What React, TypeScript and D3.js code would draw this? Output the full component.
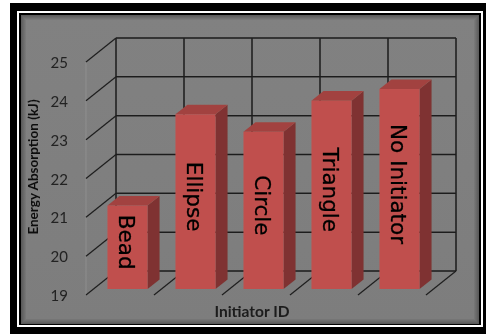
import React from "react";
import * as d3 from "d3";

const categories = ["Bead", "Ellipse", "Circle", "Triangle", "No Initiator"];
const energyValues = [21.15, 23.5, 23.05, 23.85, 24.15];
const yTicks = [19, 20, 21, 22, 23, 24, 25];

const W = 488;
const H = 334;

// plot floor / wall geometry (front plane)
const X0 = 86;
const X1 = 426;
const DEPTH_DX = 30;
const DEPTH_DY = -24;

const x = d3
  .scaleBand<string>()
  .domain(categories)
  .range([X0, X1])
  .paddingInner(0.41)
  .paddingOuter(0.205);

const y = d3.scaleLinear().domain([19, 25]).range([295, 62]);

// project a point back into the depth of the chart (f in 0..1)
const px = (xx: number, f: number) => xx + DEPTH_DX * f;
const py = (yy: number, f: number) => yy + DEPTH_DY * f;

const BAR_F0 = 0.25;
const BAR_F1 = 0.65;

const gridColor = "#1e1e1e";

export default function App() {
  const step = x.step();
  const boundaries = d3.range(categories.length + 1).map((i) => X0 + i * step);

  return (
    <svg
      width={W}
      height={H}
      style={{ position: "absolute", left: 0, top: 0 }}
      fontFamily="Lato, 'Open Sans', sans-serif"
    >
      <defs>
        <linearGradient id="panelGrad" x1="0" y1="0" x2="0" y2="1">
          <stop offset="0" stopColor="#818181" />
          <stop offset="1" stopColor="#7d7d7d" />
        </linearGradient>
        <filter id="soft" x="-5%" y="-5%" width="110%" height="110%">
          <feGaussianBlur stdDeviation="0.35" />
        </filter>
      </defs>
      <rect x={0} y={0} width={W} height={H} fill="#ffffff" />
      {/* frame */}
      <rect x={10} y={3} width={476} height={331} fill="#000" />
      <rect x={18} y={12} width={464} height={314} fill="none" stroke="#fff" strokeWidth={2} />
      <rect x={21} y={15} width={458} height={309} fill="url(#panelGrad)" />
      {/* inner shading along panel edge */}
      {[0, 1, 2, 3, 4].map((k) => (
        <rect
          key={k}
          x={21 + k + 0.5}
          y={15 + k + 0.5}
          width={458 - 2 * k - 1}
          height={309 - 2 * k - 1}
          fill="none"
          stroke="#000"
          strokeOpacity={0.28 - k * 0.055}
          strokeWidth={1}
        />
      ))}

      <g filter="url(#soft)">
        {/* faint front edge of left wall */}
        <line
          x1={X0}
          x2={X0}
          y1={y(25)}
          y2={y(19)}
          stroke="#9a9a9a"
          strokeWidth={1}
          strokeOpacity={0.6}
        />
        {/* left wall diagonals */}
        {yTicks.map((t) => (
          <line
            key={"lw" + t}
            x1={X0}
            y1={y(t)}
            x2={px(X0, 1)}
            y2={py(y(t), 1)}
            stroke={gridColor}
            strokeWidth={1.2}
          />
        ))}
        {/* back wall horizontal gridlines */}
        {yTicks.map((t) => (
          <line
            key={"bw" + t}
            x1={px(X0, 1)}
            x2={px(X1, 1)}
            y1={py(y(t), 1)}
            y2={py(y(t), 1)}
            stroke={gridColor}
            strokeWidth={1.5}
          />
        ))}
        {/* back wall vertical gridlines */}
        {boundaries.map((b, i) => (
          <line
            key={"bv" + i}
            x1={px(b, 1)}
            x2={px(b, 1)}
            y1={py(y(25), 1)}
            y2={py(y(19), 1)}
            stroke={gridColor}
            strokeWidth={1.5}
          />
        ))}
        {/* floor diagonals */}
        {boundaries.slice(1).map((b, i) => (
          <line
            key={"fd" + i}
            x1={b}
            y1={y(19)}
            x2={px(b, 1)}
            y2={py(y(19), 1)}
            stroke={gridColor}
            strokeWidth={1.2}
          />
        ))}

        {/* bars */}
        {categories.map((c, i) => {
          const xl = px(x(c)!, BAR_F0);
          const xr = xl + x.bandwidth();
          const yb = py(y(19), BAR_F0);
          const yt = py(y(energyValues[i]), BAR_F0);
          const ddx = DEPTH_DX * (BAR_F1 - BAR_F0);
          const ddy = DEPTH_DY * (BAR_F1 - BAR_F0);
          const top = [
            [xl, yt],
            [xr, yt],
            [xr + ddx, yt + ddy],
            [xl + ddx, yt + ddy],
          ];
          const side = [
            [xr, yt],
            [xr + ddx, yt + ddy],
            [xr + ddx, yb + ddy],
            [xr, yb],
          ];
          const cx = (xl + xr) / 2;
          const cy = (yt + yb) / 2 - 5;
          return (
            <g key={c}>
              <polygon points={side.map((p) => p.join(",")).join(" ")} fill="#7f3331" />
              <polygon points={top.map((p) => p.join(",")).join(" ")} fill="#a2433f" />
              <rect x={xl} y={yt} width={xr - xl} height={yb - yt} fill="#c0504d" />
              <text
                transform={`translate(${cx - 1},${cy}) rotate(90)`}
                textAnchor="middle"
                dominantBaseline="central"
                fontFamily="'DejaVu Sans', Verdana, sans-serif"
                fontSize={21.5}
                fill="#000"
                stroke="#000"
                strokeWidth={0.3}
              >
                {c}
              </text>
            </g>
          );
        })}

        {/* y tick labels */}
        {yTicks.map((t) => (
          <text
            key={"yl" + t}
            x={68}
            y={y(t)}
            textAnchor="end"
            dominantBaseline="central"
            fontSize={15}
            fill="#222"
          >
            {t}
          </text>
        ))}

        {/* axis titles */}
        <text
          transform={`translate(33,${167}) rotate(-90)`}
          textAnchor="middle"
          dominantBaseline="central"
          fontSize={13.5}
          fontWeight="bold"
          fill="#111"
        >
          Energy Absorption (kJ)
        </text>
        <text
          x={252}
          y={311}
          textAnchor="middle"
          dominantBaseline="central"
          fontSize={15.5}
          fontWeight="bold"
          fill="#1c1c1c"
        >
          Initiator ID
        </text>
      </g>
    </svg>
  );
}
